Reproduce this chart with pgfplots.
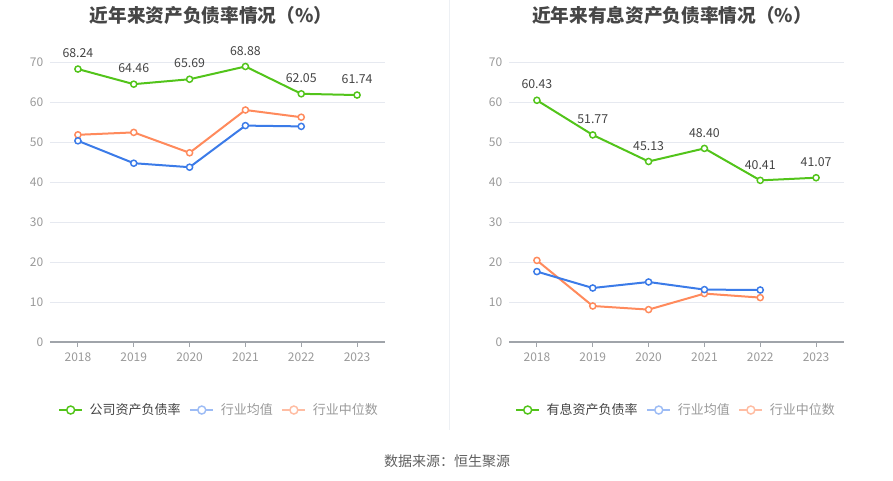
\documentclass[border=0pt]{standalone}
\usepackage{pgfplots}
\pgfplotsset{compat=1.18}
\usepackage{fontspec}
\setmainfont{Noto Sans CJK SC}
\definecolor{cg}{HTML}{52C41A}
\definecolor{cb}{HTML}{3B7BE8}
\definecolor{co}{HTML}{FF8A5C}
\definecolor{lb}{HTML}{9DBCF5}
\definecolor{lo}{HTML}{FFBDA3}
\definecolor{gridc}{HTML}{E6E9F0}
\definecolor{tickc}{HTML}{999999}
\definecolor{axc}{HTML}{A0A4AA}
\definecolor{titc}{HTML}{464646}
\definecolor{lblc}{HTML}{444444}

\pgfplotsset{
  mystyle/.style={
    anchor=south west,
    scale only axis, width=251.25pt, height=210pt,
    xmin=-0.5, xmax=5.5, ymin=0, ymax=70,
    ytick={0,10,...,70}, xtick={0,1,2,3,4,5},
    xticklabels={2018,2019,2020,2021,2022,2023},
    axis x line*=bottom, axis y line*=left,
    y axis line style={draw=none},
    x axis line style={draw=axc, line width=0.9pt, -},
    ytick style={draw=none},
    xtick style={draw=axc, line width=0.8pt},
    xtick align=outside, major tick length=3.75pt,
    ymajorgrids, grid style={gridc, line width=0.6pt},
    ticklabel style={font=\fontsize{9}{10}\selectfont, text=tickc},
    yticklabel style={xshift=-1.5pt},
    xticklabel style={yshift=-1pt},
    /pgf/number format/assume math mode=true,
    clip=false,
    legend cell align=left,
    legend style={draw=none, fill=none, inner sep=0pt, anchor=west,
      font=\fontsize{9.75}{11}\selectfont,
      /tikz/every even column/.append style={column sep=1.5pt},
      nodes={inner xsep=5pt}},
    legend columns=3,
  },
  mainline/.style={cg, line width=1.5pt, mark=*, mark size=2.3pt,
    mark options={fill=white, draw=cg, line width=1.1pt}},
  bline/.style={cb, line width=1.5pt, mark=*, mark size=2.3pt,
    mark options={fill=white, draw=cb, line width=1.1pt}},
  oline/.style={co, line width=1.5pt, mark=*, mark size=2.3pt,
    mark options={fill=white, draw=co, line width=1.1pt}},
  lgg/.style={cg, line width=1.5pt, mark=*, mark size=3pt, mark options={fill=white, draw=cg, line width=1.1pt}},
  lgb/.style={lb, line width=1.5pt, mark=*, mark size=3pt, mark options={fill=white, draw=lb, line width=1.1pt}},
  lgo/.style={lo, line width=1.5pt, mark=*, mark size=3pt, mark options={fill=white, draw=lo, line width=1.1pt}},
  lbls/.style={nodes near coords, point meta=y,
    nodes near coords style={font=\fontsize{9.25}{10}\selectfont, text=lblc, anchor=south, yshift=4.5pt,
      /pgf/number format/.cd, fixed, fixed zerofill, precision=2, assume math mode=true}},
}

\begin{document}
\begin{tikzpicture}[x=0.75pt, y=0.75pt]
\path[use as bounding box] (0,0) rectangle (893,481);

% ---------------- left chart ----------------
\begin{axis}[mystyle, at={(37.5pt,104.25pt)},
  title={\bfseries 近年来资产负债率情况（\%）},
  title style={font=\fontsize{14}{15}\selectfont, text=titc, at={(0.5,1)}, anchor=center, xshift=-4.9pt, yshift=29.25pt},
  legend style={at={(0.024,-0.243)}},
]
\addlegendimage{lgg}
\addlegendentry{\textcolor{lblc}{公司资产负债率}}
\addlegendimage{lgb}
\addlegendentry{\textcolor{tickc}{行业均值}}
\addlegendimage{lgo}
\addlegendentry{\textcolor{tickc}{行业中位数}}
\addplot[oline, forget plot] coordinates {(0,51.8) (1,52.4) (2,47.3) (3,58.0) (4,56.2)};
\addplot[bline, forget plot] coordinates {(0,50.3) (1,44.7) (2,43.7) (3,54.1) (4,53.9)};
\addplot[mainline, lbls, forget plot] coordinates {(0,68.24) (1,64.46) (2,65.69) (3,68.88) (4,62.05) (5,61.74)};
\end{axis}

% ---------------- right chart ----------------
\begin{axis}[mystyle, at={(381.75pt,104.25pt)},
  title={\bfseries 近年来有息资产负债率情况（\%）},
  title style={font=\fontsize{14}{15}\selectfont, text=titc, at={(0.5,1)}, anchor=center, xshift=-3.4pt, yshift=29.25pt},
  legend style={at={(0.018,-0.243)}},
]
\addlegendimage{lgg}
\addlegendentry{\textcolor{lblc}{有息资产负债率}}
\addlegendimage{lgb}
\addlegendentry{\textcolor{tickc}{行业均值}}
\addlegendimage{lgo}
\addlegendentry{\textcolor{tickc}{行业中位数}}
\addplot[oline, forget plot] coordinates {(0,20.4) (1,9.0) (2,8.1) (3,12.1) (4,11.1)};
\addplot[bline, forget plot] coordinates {(0,17.6) (1,13.5) (2,15.0) (3,13.1) (4,13.0)};
\addplot[mainline, lbls, forget plot] coordinates {(0,60.43) (1,51.77) (2,45.13) (3,48.40) (4,40.41) (5,41.07)};
\end{axis}

% divider
\draw[draw=gridc!70, line width=0.6pt] (449,51) -- (449,481);
% source
\node[font=\fontsize{10.5}{12}\selectfont, text=lblc!85] at (447,20) {数据来源：恒生聚源};
\end{tikzpicture}
\end{document}
